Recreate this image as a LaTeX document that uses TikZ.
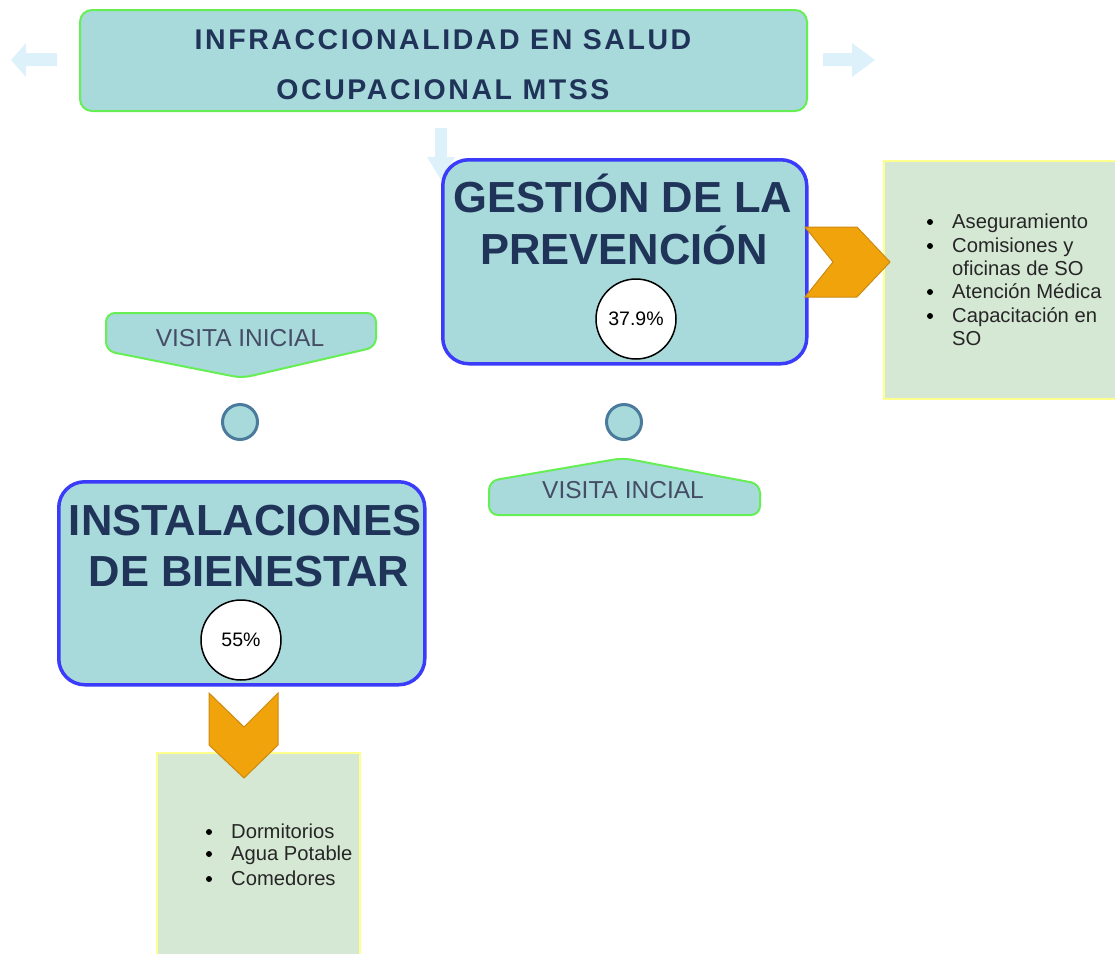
\documentclass[tikz,border=0pt]{standalone}
\usepackage{fontspec}
\setmainfont{Liberation Sans}
\definecolor{tealfill}{HTML}{A8D9DB}
\definecolor{greenline}{HTML}{66EE55}
\definecolor{blueline}{HTML}{3B3BFA}
\definecolor{navy}{HTML}{1F3458}
\definecolor{slate}{HTML}{454D66}
\definecolor{orangef}{HTML}{F0A30A}
\definecolor{oranged}{HTML}{CC8A10}
\definecolor{palegreen}{HTML}{D5E8D4}
\definecolor{paleyellow}{HTML}{FFFF8C}
\definecolor{faint}{HTML}{DDF1FB}
\definecolor{steel}{HTML}{4A7B9D}
\begin{document}
\begin{tikzpicture}[x=1pt,y=-1pt,
 titlebox/.style={draw=greenline, line width=2pt, fill=tealfill, rounded corners=12pt, inner sep=0pt},
 bigbox/.style={draw=blueline, line width=3.5pt, fill=tealfill, rounded corners=26pt, inner sep=0pt},
 pct/.style={circle, draw=black, line width=1.5pt, fill=white, minimum size=80pt, inner sep=0pt, text=black, font=\fontsize{19.5}{22}\selectfont},
 dot/.style={circle, draw=steel, line width=3pt, fill=tealfill, minimum size=35pt, inner sep=0pt},
 tagshape/.style={draw=greenline, line width=2pt, fill=tealfill, rounded corners=9pt},
 chevron/.style={fill=orangef, draw=oranged, line width=1pt, line join=miter},
 notebox/.style={draw=paleyellow, line width=2pt, fill=palegreen, inner sep=0pt},
 faintarrow/.style={fill=faint, draw=none},
 headtext/.style={anchor=base, text=navy, font=\fontsize{43.5}{50}\selectfont\bfseries},
 titletext/.style={anchor=base, text=navy, font=\fontsize{28.5}{32}\selectfont\bfseries\addfontfeature{LetterSpace=9}},
 tagtext/.style={anchor=base, text=slate, font=\fontsize{24.5}{28}\selectfont},
 itemtext/.style={anchor=base west, text=black!85, font=\fontsize{20.2}{22}\selectfont, inner sep=0pt},
 bul/.style={circle, fill=black, inner sep=0pt, minimum size=6pt},
]
\useasboundingbox (0,0) rectangle (1115,953);

% faint arrows
\fill[faintarrow] (11,60) -- (26,43) -- (26,53) -- (57,53) -- (57,66) -- (26,66) -- (26,77) -- cycle;
\fill[faintarrow] (875,60) -- (852,43) -- (852,53) -- (823,53) -- (823,66) -- (852,66) -- (852,77) -- cycle;
\fill[faintarrow] (441,180) -- (427,157) -- (435,157) -- (435,128) -- (447,128) -- (447,157) -- (455,157) -- cycle;

% title
\node[titlebox, minimum width=727pt, minimum height=101pt, anchor=north west] (title) at (79,9) {};
\node[titletext] (t1) at (443,49) {INFRACCIONALIDAD EN SALUD};
\node[titletext] (t2) at (443,99) {OCUPACIONAL MTSS};

% note boxes
\node[notebox, minimum width=236pt, minimum height=238pt, anchor=north west] (note1) at (883,160) {};
\node[notebox, minimum width=203pt, minimum height=215pt, anchor=north west] (note2) at (156,752) {};

% big boxes
\node[bigbox, minimum width=364pt, minimum height=204pt, anchor=north west] (gest) at (441,158) {};
\node[headtext] (g1) at (623,212) {GESTIÓN DE LA};
\node[headtext] (g2) at (624,264) {PREVENCIÓN};
\node[pct] (p1) at (636,319) {37.9\%};

\node[bigbox, minimum width=366pt, minimum height=203pt, anchor=north west] (inst) at (57,480) {};
\node[headtext] (i1) at (245,535) {INSTALACIONES};
\node[headtext] (i2) at (249,586) {DE BIENESTAR};
\node[pct] (p2) at (241,640) {55\%};

% chevrons
\draw[chevron] (805,227) -- (857,227) -- (890,262) -- (857,297) -- (805,297) -- (833,262) -- cycle;
\draw[chevron] (209,693) -- (244,727) -- (278,693) -- (278,745) -- (244,778) -- (209,745) -- cycle;

% tags
\draw[tagshape] (106,313) -- (376,313) -- (376,347) -- (242,378) -- (106,351) -- cycle;
\node[tagtext] (v1) at (240,346) {VISITA INICIAL};
\draw[tagshape] (489,515) -- (489,481) -- (623,458) -- (760,484) -- (760,515) -- cycle;
\node[tagtext] (v2) at (623,498) {VISITA INCIAL};

% dots
\node[dot] (d1) at (240,422) {};
\node[dot] (d2) at (624,422) {};

% right list
\node[bul] (b1) at (930,222) {};
\node[itemtext] (l1) at (952,228) {Aseguramiento};
\node[bul] (b2) at (930,246) {};
\node[itemtext] (l2) at (952,252) {Comisiones y};
\node[itemtext] (l3) at (952,275) {oficinas de SO};
\node[bul] (b3) at (930,292) {};
\node[itemtext] (l4) at (952,298) {Atención Médica};
\node[bul] (b4) at (930,316) {};
\node[itemtext] (l5) at (952,322) {Capacitación en};
\node[itemtext] (l6) at (952,345) {SO};

% bottom list
\node[bul] (c1) at (209,832) {};
\node[itemtext] (m1) at (231,838) {Dormitorios};
\node[bul] (c2) at (209,854) {};
\node[itemtext] (m2) at (231,860) {Agua Potable};
\node[bul] (c3) at (209,879) {};
\node[itemtext] (m3) at (231,885) {Comedores};
\end{tikzpicture}
\end{document}
